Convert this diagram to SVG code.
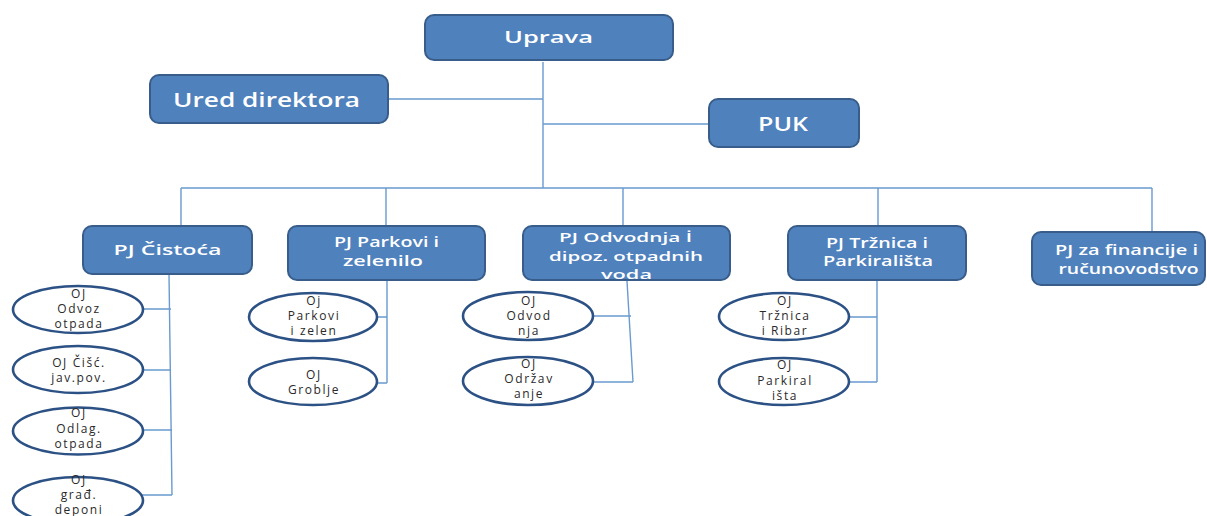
<svg xmlns="http://www.w3.org/2000/svg" width="1207" height="516" viewBox="0 0 1207 516">
<style>
.box{fill:#4f81bd;stroke:#385d8a;stroke-width:2}
.ell{fill:#ffffff;stroke:#2c5185;stroke-width:2.6}
.conn{fill:none;stroke:#6a9ad0;stroke-width:1.4}
.bt{fill:#ffffff;font-family:"Open Sans","Liberation Sans",sans-serif;font-weight:600;text-anchor:middle}
.et{fill:#2a2a2a;font-family:"Open Sans","Liberation Sans",sans-serif;font-size:12px;letter-spacing:1.6px;text-anchor:middle}
</style>
<rect width="1207" height="516" fill="#ffffff"/>
<g id="connectors">
<path class="conn" d="M543 62V188M388 99H543M543 124H709M181 188H1152M181 188V226M386 188V226M623 188V226M878 188V226M1152 188V232"/>
<path class="conn" d="M169 274L172 495M143 309H171M143 370H171M142 430H172M142 495H172"/>
<path class="conn" d="M387 280V383M377 317H387M377 383H387"/>
<path class="conn" d="M627 281L633 382M593 316H631M575 382H633"/>
<path class="conn" d="M877 280V382M849 317H877M849 382H877"/>
</g>
<g id="uprava"><rect class="box" x="425" y="15" width="248" height="45" rx="9"/><text class="bt" x="548.5" y="43" font-size="17" textLength="89" lengthAdjust="spacingAndGlyphs">Uprava</text></g>
<g id="ured"><rect class="box" x="150" y="75" width="238" height="48" rx="9"/><text class="bt" x="266.5" y="107" font-size="19.5" textLength="187" lengthAdjust="spacingAndGlyphs">Ured direktora</text></g>
<g id="puk"><rect class="box" x="709" y="99" width="150" height="48" rx="9"/><text class="bt" x="783" y="131" font-size="19.5" textLength="50" lengthAdjust="spacingAndGlyphs">PUK</text></g>
<g id="pj-cistoca"><rect class="box" x="83" y="226" width="169" height="48" rx="9"/><text class="bt" x="167.5" y="255" font-size="15" textLength="108" lengthAdjust="spacingAndGlyphs">PJ Čistoća</text></g>
<g id="pj-parkovi"><rect class="box" x="288" y="226" width="197" height="54" rx="9"/><text class="bt" x="386.5" y="247" font-size="13.5" textLength="105" lengthAdjust="spacingAndGlyphs">PJ Parkovi i</text><text class="bt" x="383" y="266" font-size="13.5" textLength="80" lengthAdjust="spacingAndGlyphs">zelenilo</text></g>
<g id="pj-odvodnja"><rect class="box" x="523" y="226" width="207" height="54" rx="9"/><text class="bt" x="625.5" y="242" font-size="13" textLength="133" lengthAdjust="spacingAndGlyphs">PJ Odvodnja İ</text><text class="bt" x="626" y="261" font-size="13" textLength="154" lengthAdjust="spacingAndGlyphs">dipoz. otpadnih</text><text class="bt" x="626.5" y="279" font-size="13" textLength="51" lengthAdjust="spacingAndGlyphs">voda</text></g>
<g id="pj-trznica"><rect class="box" x="788" y="226" width="178" height="54" rx="9"/><text class="bt" x="877" y="248" font-size="13.5" textLength="102" lengthAdjust="spacingAndGlyphs">PJ Tržnica i</text><text class="bt" x="878" y="266" font-size="13.5" textLength="110" lengthAdjust="spacingAndGlyphs">Parkirališta</text></g>
<g id="pj-financije"><rect class="box" x="1032" y="232" width="173" height="53" rx="9"/><text class="bt" x="1126.5" y="255" font-size="13.5" textLength="143" lengthAdjust="spacingAndGlyphs">PJ za financije i</text><text class="bt" x="1128.5" y="274" font-size="13.5" textLength="140" lengthAdjust="spacingAndGlyphs">ručunovodstvo</text></g>
<g id="oj-odvoz"><ellipse class="ell" cx="78" cy="309.5" rx="65" ry="23.5"/><text class="et" x="79" y="298">OJ</text><text class="et" x="79" y="313">Odvoz</text><text class="et" x="79" y="328">otpada</text></g>
<g id="oj-cisc"><ellipse class="ell" cx="78" cy="369.5" rx="65" ry="23.5"/><text class="et" x="79" y="367">OJ Čišć.</text><text class="et" x="79" y="382">jav.pov.</text></g>
<g id="oj-odlag"><ellipse class="ell" cx="78" cy="431" rx="65" ry="23.5"/><text class="et" x="79" y="417">OJ</text><text class="et" x="79" y="433">Odlag.</text><text class="et" x="79" y="448">otpada</text></g>
<g id="oj-grad"><ellipse class="ell" cx="78" cy="500.5" rx="65" ry="23.5"/><text class="et" x="79" y="484">OJ</text><text class="et" x="79" y="499">građ.</text><text class="et" x="79" y="514">deponi</text></g>
<g id="oj-parkovi"><ellipse class="ell" cx="313" cy="317" rx="64" ry="24"/><text class="et" x="314" y="305">Oj</text><text class="et" x="314" y="320">Parkovi</text><text class="et" x="314" y="335">i zelen</text></g>
<g id="oj-groblje"><ellipse class="ell" cx="313" cy="381.5" rx="64" ry="23.5"/><text class="et" x="314" y="379">OJ</text><text class="et" x="314" y="394">Groblje</text></g>
<g id="oj-odvodnja"><ellipse class="ell" cx="528" cy="316" rx="65" ry="24"/><text class="et" x="529" y="305">OJ</text><text class="et" x="529" y="320">Odvod</text><text class="et" x="529" y="335">nja</text></g>
<g id="oj-odrzavanje"><ellipse class="ell" cx="528" cy="381" rx="65" ry="24"/><text class="et" x="529" y="368">OJ</text><text class="et" x="529" y="383">Održav</text><text class="et" x="529" y="398">anje</text></g>
<g id="oj-trznica"><ellipse class="ell" cx="784" cy="316.5" rx="65" ry="23.5"/><text class="et" x="785" y="305">OJ</text><text class="et" x="785" y="320">Tržnica</text><text class="et" x="785" y="335">i Ribar</text></g>
<g id="oj-parkiraliste"><ellipse class="ell" cx="784" cy="381.5" rx="65" ry="23.5"/><text class="et" x="785" y="369">OJ</text><text class="et" x="785" y="385">Parkiral</text><text class="et" x="785" y="400">išta</text></g>
</svg>
